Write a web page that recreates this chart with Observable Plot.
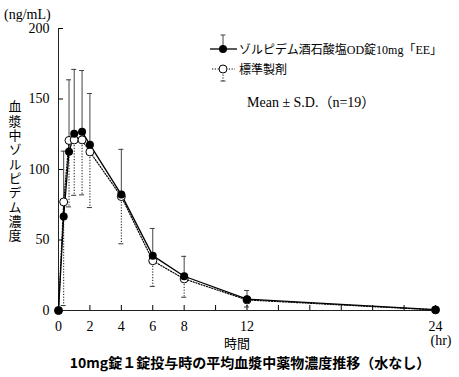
<!DOCTYPE html>
<html><head><meta charset="utf-8">
<script src="https://cdn.jsdelivr.net/npm/d3@7"></script>
<script src="https://cdn.jsdelivr.net/npm/@observablehq/plot@0.6"></script>
<style>body{margin:0;background:#fff} svg{display:block}</style>
</head><body><div id="chart"></div>
<script>
// Sampling times (hr)
const times = [0, 0.33, 0.67, 1, 1.5, 2, 4, 6, 8, 12, 24];
// ゾルピデム酒石酸塩OD錠10mg「EE」 (test) mean and SD (ng/mL)
const testMean = [0, 66.6, 112.6, 125.3, 126.8, 117.6, 82.2, 38.9, 24.3, 8.0, 0.6];
const testSD   = [0, 46.4, 51.0, 45.7, 43.4, 36.3, 32.1, 19.3, 14.1, 6.2, 0.6];
// 標準製剤 (reference) mean and SD (ng/mL)
const refMean  = [0, 77.0, 120.6, 121.0, 121.0, 112.5, 80.8, 35.3, 22.4, 7.5, 0.4];
const refSD    = [0, 73.5, 47.1, 39.3, 39.0, 39.5, 33.5, 18.2, 13.0, 5.0, 0.4];
// Axis ticks
const xTicks = [0, 2, 4, 6, 8, 10, 12, 14, 16, 18, 20, 22, 24];
const xLabels = [0, 2, 4, 6, 8, 12, 24];
const yTicks = [0, 50, 100, 150, 200];

const seriesNames = ["ゾルピデム酒石酸塩OD錠10mg「EE」", "標準製剤"];

const test = times.map((t, i) => ({t, mean: testMean[i], hi: testMean[i] + testSD[i]}));
const ref = times.map((t, i) => ({t, mean: refMean[i], lo: refMean[i] - refSD[i]}));
const testBars = test.filter(d => d.hi - d.mean > 0.5);
const refBars = ref.filter(d => d.mean - d.lo > 0.5);

const serif = '"Liberation Serif","Noto Sans CJK JP",serif';
const dotted = "1.2,1.6";

const chart = Plot.plot({
  width: 459, height: 377,
  marginLeft: 58, marginRight: 24, marginTop: 28, marginBottom: 67,
  style: {fontFamily: serif, fontSize: "14px", color: "#000", background: "#fff"},
  x: {domain: [0, 24]},
  y: {domain: [0, 200]},
  marks: [
    Plot.axisX({ticks: xTicks, tickSize: -5, tickPadding: 16, label: null,
      tickFormat: d => xLabels.includes(d) ? String(d) : ""}),
    Plot.axisY({ticks: yTicks, tickSize: -5, tickPadding: 14, label: null}),
    Plot.ruleY([0], {stroke: "#222"}),
    Plot.ruleX([0], {stroke: "#222"}),
    // reference: lower SD bars (dotted)
    Plot.ruleX(refBars, {x: "t", y1: "mean", y2: "lo", stroke: "#111", strokeDasharray: dotted}),
    Plot.ruleY(refBars, {y: "lo", x1: "t", x2: "t", insetLeft: -2.5, insetRight: -2.5, stroke: "#333"}),
    // test: upper SD bars (solid)
    Plot.ruleX(testBars, {x: "t", y1: "mean", y2: "hi", stroke: "#444"}),
    Plot.ruleY(testBars, {y: "hi", x1: "t", x2: "t", insetLeft: -2.5, insetRight: -2.5, stroke: "#444"}),
    Plot.line(ref, {x: "t", y: "mean", stroke: "#000", strokeWidth: 1.2, strokeDasharray: dotted}),
    Plot.line(test, {x: "t", y: "mean", stroke: "#000", strokeWidth: 1.3}),
    Plot.dot(ref, {x: "t", y: "mean", r: 4, fill: "#fff", stroke: "#000", strokeWidth: 1}),
    Plot.dot(test, {x: "t", y: "mean", r: 4, fill: "#000"})
  ]
});

const svg = d3.select(chart);
const add = (x, y, txt, opts = {}) => {
  const t = svg.append("text").attr("x", x).attr("y", y).text(txt)
    .attr("font-family", opts.family || serif)
    .attr("font-size", opts.size || 14)
    .attr("text-anchor", opts.anchor || "start")
    .attr("fill", "#000");
  if (opts.weight) t.attr("font-weight", opts.weight);
  return t;
};
add(4, 19, "(ng/mL)");
add(15, 100, "血漿中ゾルピデム濃度", {family: '"Noto Sans CJK JP",sans-serif', size: 13})
  .style("writing-mode", "vertical-rl").style("letter-spacing", "1.3px").attr("text-anchor", "start");
add(237, 348, "時間", {anchor: "middle", family: '"Noto Sans CJK JP",sans-serif', size: 13});
add(441, 345, "(hr)", {anchor: "middle"});
add(250, 368, "10mg錠１錠投与時の平均血漿中薬物濃度推移（水なし）",
  {anchor: "middle", family: '"Noto Sans CJK JP",sans-serif', size: 14, weight: "bold"});

// legend
const lg = svg.append("g");
lg.append("line").attr("x1", 210).attr("x2", 237).attr("y1", 49).attr("y2", 49).attr("stroke", "#000").attr("stroke-width", 1.3);
lg.append("line").attr("x1", 223).attr("x2", 223).attr("y1", 49).attr("y2", 35).attr("stroke", "#444");
lg.append("line").attr("x1", 220.5).attr("x2", 225.5).attr("y1", 35).attr("y2", 35).attr("stroke", "#444");
lg.append("circle").attr("cx", 223).attr("cy", 49).attr("r", 4).attr("fill", "#000");
lg.append("line").attr("x1", 212).attr("x2", 235).attr("y1", 69).attr("y2", 69).attr("stroke", "#000").attr("stroke-dasharray", dotted).attr("stroke-width", 1.2);
lg.append("line").attr("x1", 223).attr("x2", 223).attr("y1", 69).attr("y2", 81).attr("stroke", "#111").attr("stroke-dasharray", dotted);
lg.append("line").attr("x1", 220.5).attr("x2", 225.5).attr("y1", 81).attr("y2", 81).attr("stroke", "#333");
lg.append("circle").attr("cx", 223).attr("cy", 69).attr("r", 4).attr("fill", "#fff").attr("stroke", "#000");
add(239, 53.5, seriesNames[0], {size: 12});
add(239, 74, seriesNames[1], {size: 12});
add(247, 107, "Mean ± S.D.（n=19）", {size: 14});

document.getElementById("chart").append(chart);
</script>
</body></html>
